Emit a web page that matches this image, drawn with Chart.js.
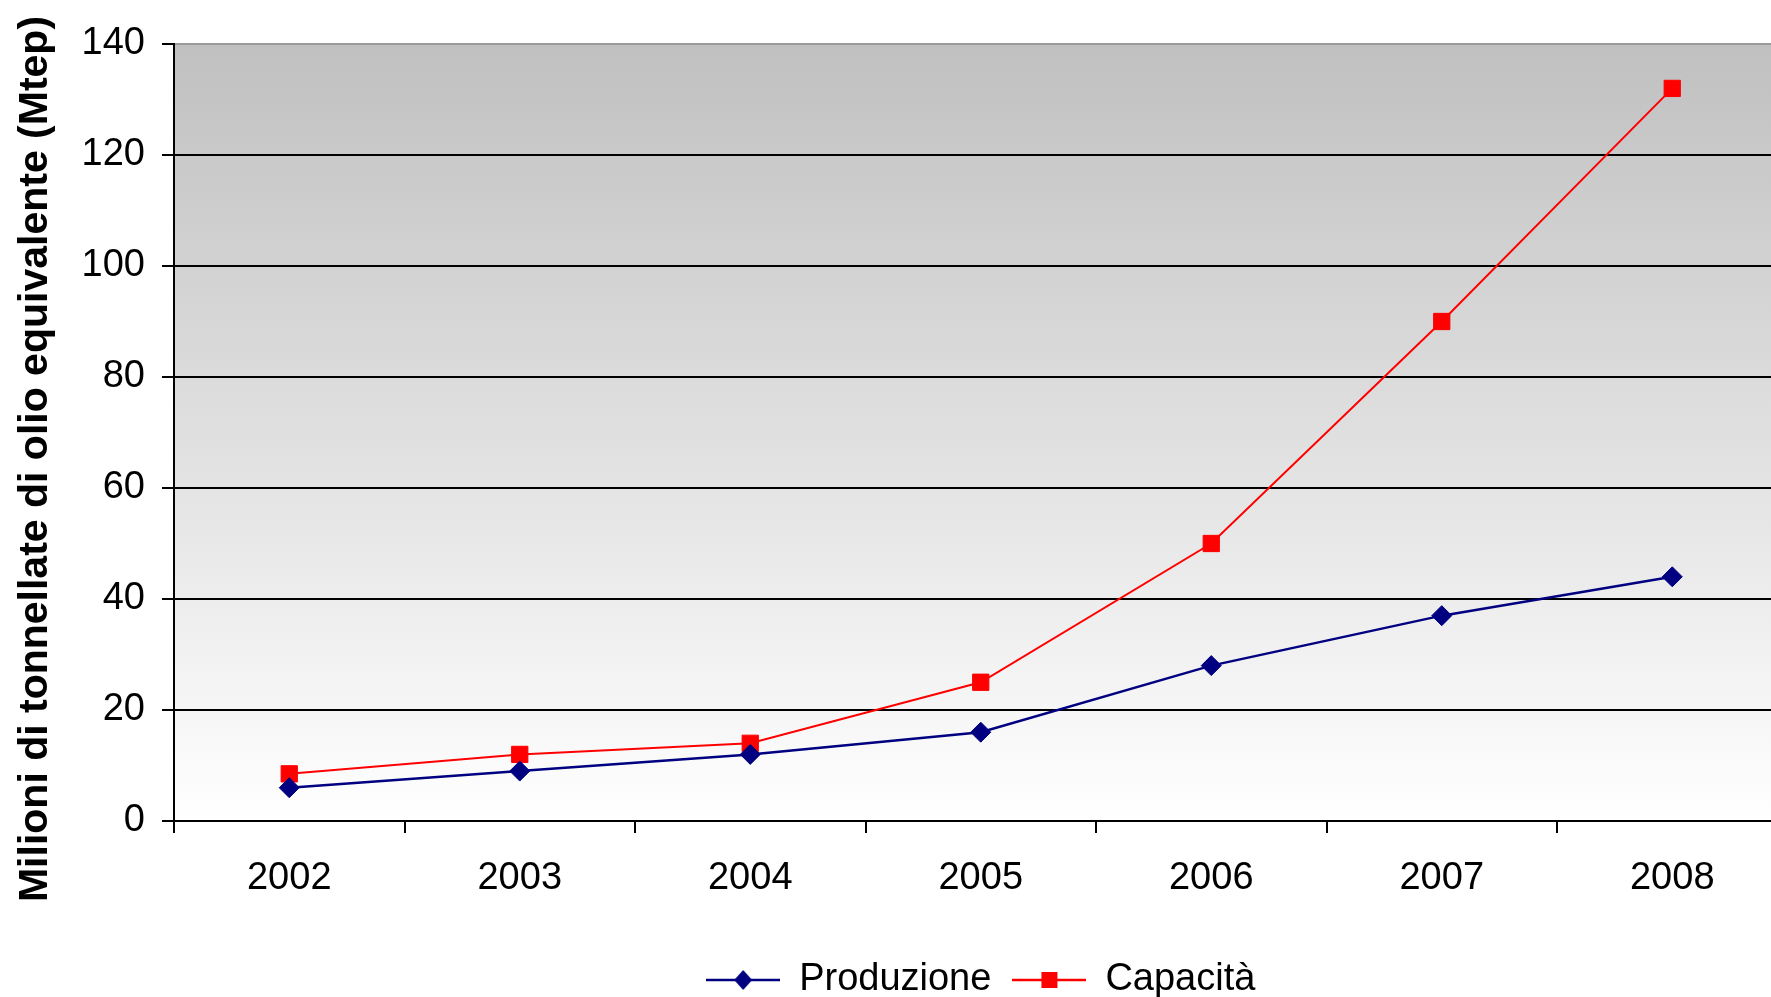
<!DOCTYPE html>
<html>
<head>
<meta charset="utf-8">
<script src="https://cdn.jsdelivr.net/npm/chart.js@4.4.1/dist/chart.umd.min.js"></script>
<style>
  html, body { margin: 0; padding: 0; background: #fff; overflow: hidden; width: 1771px; height: 997px; }
  canvas { display: block; }
</style>
</head>
<body>
<canvas id="chart" width="1800" height="1009"></canvas>
<script>
// Years on the category axis
const years = ['2002', '2003', '2004', '2005', '2006', '2007', '2008'];
// Mtep per year
const produzione = [6, 9, 12, 16, 28, 37, 44];
const capacita = [8.5, 12, 14, 25, 50, 90, 132];
// Value-axis ticks
const yTicks = [0, 20, 40, 60, 80, 100, 120, 140];
const seriesNames = ['Produzione', 'Capacità'];
const axisTitle = 'Milioni di tonnellate di olio equivalente (Mtep)';

const FONT = '"Liberation Sans", Arial, sans-serif';
const NAVY = '#000080';
const RED = '#ff0000';

// Legend swatch: a short line segment with the series marker in the middle
function legendIcon(color, shape) {
  const c = document.createElement('canvas');
  c.width = 74; c.height = 22;
  const g = c.getContext('2d');
  g.strokeStyle = color; g.lineWidth = 2.5;
  g.beginPath(); g.moveTo(0, 11); g.lineTo(74, 11); g.stroke();
  g.fillStyle = color;
  g.beginPath();
  if (shape === 'diamond') {
    g.moveTo(37, 1); g.lineTo(46, 11); g.lineTo(37, 21); g.lineTo(28, 11); g.closePath();
  } else {
    g.rect(29, 3, 16, 16);
  }
  g.fill();
  return c;
}
const legendIcons = [legendIcon(NAVY, 'diamond'), legendIcon(RED, 'square')];

// Grey-to-white vertical fill behind the plot
const plotBackground = {
  id: 'plotBackground',
  beforeDraw(chart) {
    const { ctx, chartArea: a } = chart;
    const grad = ctx.createLinearGradient(0, a.top, 0, a.bottom);
    grad.addColorStop(0, '#c0c0c0');
    grad.addColorStop(1, '#ffffff');
    ctx.save();
    ctx.fillStyle = grad;
    ctx.fillRect(a.left, a.top, a.right - a.left, a.bottom - a.top);
    ctx.restore();
  }
};

// Rotated value-axis title
const valueAxisTitle = {
  id: 'valueAxisTitle',
  afterDraw(chart) {
    const ctx = chart.ctx;
    ctx.save();
    ctx.translate(36, 459);
    ctx.rotate(-Math.PI / 2);
    ctx.font = 'bold 41px ' + FONT;
    ctx.fillStyle = '#000';
    ctx.textAlign = 'center';
    ctx.textBaseline = 'middle';
    ctx.fillText(axisTitle, 0, 0);
    ctx.restore();
  }
};

new Chart(document.getElementById('chart'), {
  type: 'line',
  data: {
    labels: years,
    datasets: [
      {
        label: seriesNames[0],
        data: produzione,
        borderColor: NAVY,
        backgroundColor: NAVY,
        borderWidth: 2.5,
        pointStyle: 'rectRot',
        pointRadius: 10,
        pointBorderWidth: 1,
        pointBackgroundColor: NAVY,
        pointBorderColor: NAVY,
        tension: 0,
        fill: false
      },
      {
        label: seriesNames[1],
        data: capacita,
        borderColor: RED,
        backgroundColor: RED,
        borderWidth: 2,
        pointStyle: 'rect',
        pointRadius: 11.5,
        pointBorderWidth: 1,
        pointBackgroundColor: RED,
        pointBorderColor: RED,
        tension: 0,
        fill: false
      }
    ]
  },
  options: {
    responsive: false,
    animation: false,
    devicePixelRatio: 1,
    layout: { padding: { top: 44, right: 9, bottom: 0, left: 0 } },
    plugins: {
      legend: {
        position: 'bottom',
        fullSize: false,
        labels: {
          usePointStyle: true,
          pointStyleWidth: 74,
          boxHeight: 38,
          padding: 21,
          color: '#000',
          font: { family: FONT, size: 38 },
          generateLabels(chart) {
            const items = Chart.defaults.plugins.legend.labels.generateLabels(chart);
            items.forEach((it, i) => { it.pointStyle = legendIcons[i]; });
            return items;
          }
        }
      },
      tooltip: { enabled: false }
    },
    scales: {
      x: {
        offset: true,
        grid: {
          offset: true,
          drawOnChartArea: false,
          drawTicks: true,
          tickLength: 12,
          color: '#000',
          lineWidth: 2
        },
        border: { color: '#000', width: 2 },
        ticks: {
          color: '#000',
          font: { family: FONT, size: 38 },
          padding: 23,
          maxRotation: 0,
          autoSkip: false
        },
        afterFit(scale) { scale.height = 119; }
      },
      y: {
        min: yTicks[0],
        max: yTicks[yTicks.length - 1],
        afterBuildTicks(scale) { scale.ticks = yTicks.map(v => ({ value: v })); },
        grid: {
          color: (c) => (c.tick && c.tick.value === yTicks[yTicks.length - 1]) ? '#9a9a9a' : '#000',
          tickColor: '#000',
          lineWidth: 2,
          tickLength: 12
        },
        border: { color: '#000', width: 2 },
        ticks: {
          color: '#000',
          font: { family: FONT, size: 38 },
          padding: 17
        },
        afterFit(scale) { scale.width = 174; }
      }
    }
  },
  plugins: [plotBackground, valueAxisTitle]
});
</script>
</body>
</html>
